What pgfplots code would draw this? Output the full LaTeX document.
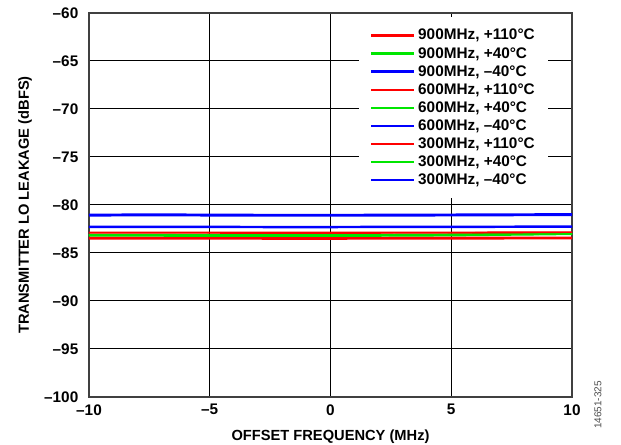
\documentclass[border=0pt]{standalone}
\usepackage{pgfplots}
\pgfplotsset{compat=1.18}
\usepackage{fontspec}
\setmainfont{Liberation Sans}
\definecolor{cR}{RGB}{255,0,0}
\definecolor{cG}{RGB}{0,230,0}
\definecolor{cB}{RGB}{0,0,255}
\begin{document}
\begin{tikzpicture}[font=\bfseries]
\useasboundingbox (-66.75pt,-36pt) rectangle (399pt,297.75pt);
\begin{axis}[
 at={(0,0)}, anchor=south west, scale only axis,
 width=362.25pt, height=288pt,
 xmin=-10, xmax=10, ymin=-100, ymax=-60,
 xtick={-10,-5,0,5,10}, xticklabels={–10,–5,0,5,10},
 ytick={-100,-95,-90,-85,-80,-75,-70,-65,-60},
 yticklabels={–100,–95,–90,–85,–80,–75,–70,–65,–60},
 grid=major, major grid style={black, line width=0.75pt},
 major tick length=0pt,
 axis line style={line width=1.2pt, black!75},
 tick label style={font=\fontsize{11.5}{13}\selectfont\bfseries},
 xticklabel style={yshift=-2pt},
 yticklabel style={xshift=-4.5pt},
 xlabel={OFFSET FREQUENCY (MHz)},
 ylabel={TRANSMITTER LO LEAKAGE (dBFS)},
 label style={font=\fontsize{11}{13}\selectfont\bfseries},
 xlabel style={at={(axis description cs:0.5,0)}, anchor=center, yshift=-30pt},
 ylabel style={at={(axis description cs:-0.1325,0.5)}, anchor=center},
 legend style={at={(0.559,0.9896)}, anchor=north west, draw=none, fill=white,
   font=\fontsize{11.5}{13}\selectfont\bfseries, inner xsep=8pt, inner ysep=7pt,
   row sep=0pt},
 legend cell align=left,
 legend image code/.code={\draw[#1] (0pt,0pt) -- (32pt,0pt);},
]
% 900 MHz (thick)
\addplot[color=cR, line width=2.2pt] coordinates {(-10,-83.45)(-7.5,-83.45)(-5,-83.45)(-2.5,-83.47)(0,-83.47)(2.5,-83.46)(5,-83.45)(7.5,-83.44)(10,-83.44)};
\addlegendentry{900MHz, +110°C}
\addplot[color=cG, line width=2.2pt] coordinates {(-10,-83.15)(-7.5,-83.15)(-5,-83.17)(-2.5,-83.18)(0,-83.18)(2.5,-83.15)(5,-83.12)(7.5,-83.05)(10,-82.98)};
\addlegendentry{900MHz, +40°C}
\addplot[color=cB, line width=2.2pt] coordinates {(-10,-81.06)(-7.5,-81.02)(-5,-81.05)(-2.5,-81.07)(0,-81.07)(2.5,-81.06)(5,-81.04)(7.5,-81.02)(10,-81.0)};
\addlegendentry{900MHz, –40°C}
% 600 MHz (thin)
\addplot[color=cR, line width=1.2pt] coordinates {(-10,-82.85)(-7.5,-82.85)(-5,-82.86)(-2.5,-82.87)(0,-82.87)(2.5,-82.86)(5,-82.85)(7.5,-82.84)(10,-82.83)};
\addlegendentry{600MHz, +110°C}
\addplot[color=cG, line width=1.2pt] coordinates {(-10,-83.1)(-7.5,-83.1)(-5,-83.11)(-2.5,-83.12)(0,-83.12)(2.5,-83.1)(5,-83.08)(7.5,-83.04)(10,-83.0)};
\addlegendentry{600MHz, +40°C}
\addplot[color=cB, line width=1.2pt] coordinates {(-10,-82.22)(-7.5,-82.22)(-5,-82.24)(-2.5,-82.25)(0,-82.25)(2.5,-82.24)(5,-82.23)(7.5,-82.22)(10,-82.2)};
\addlegendentry{600MHz, –40°C}
% 300 MHz (thin)
\addplot[color=cR, line width=1.2pt] coordinates {(-10,-82.9)(-7.5,-82.9)(-5,-82.91)(-2.5,-82.92)(0,-82.92)(2.5,-82.91)(5,-82.9)(7.5,-82.89)(10,-82.88)};
\addlegendentry{300MHz, +110°C}
\addplot[color=cG, line width=1.2pt] coordinates {(-10,-83.12)(-7.5,-83.12)(-5,-83.13)(-2.5,-83.14)(0,-83.14)(2.5,-83.12)(5,-83.1)(7.5,-83.06)(10,-83.02)};
\addlegendentry{300MHz, +40°C}
\addplot[color=cB, line width=1.2pt] coordinates {(-10,-82.32)(-7.5,-82.32)(-5,-82.33)(-2.5,-82.34)(0,-82.34)(2.5,-82.33)(5,-82.32)(7.5,-82.31)(10,-82.3)};
\addlegendentry{300MHz, –40°C}
\end{axis}
\node[rotate=90, font=\fontsize{7.5}{9}\selectfont\mdseries, text=black!70] at (381.75pt,-6pt) {14651-325};
\end{tikzpicture}
\end{document}
